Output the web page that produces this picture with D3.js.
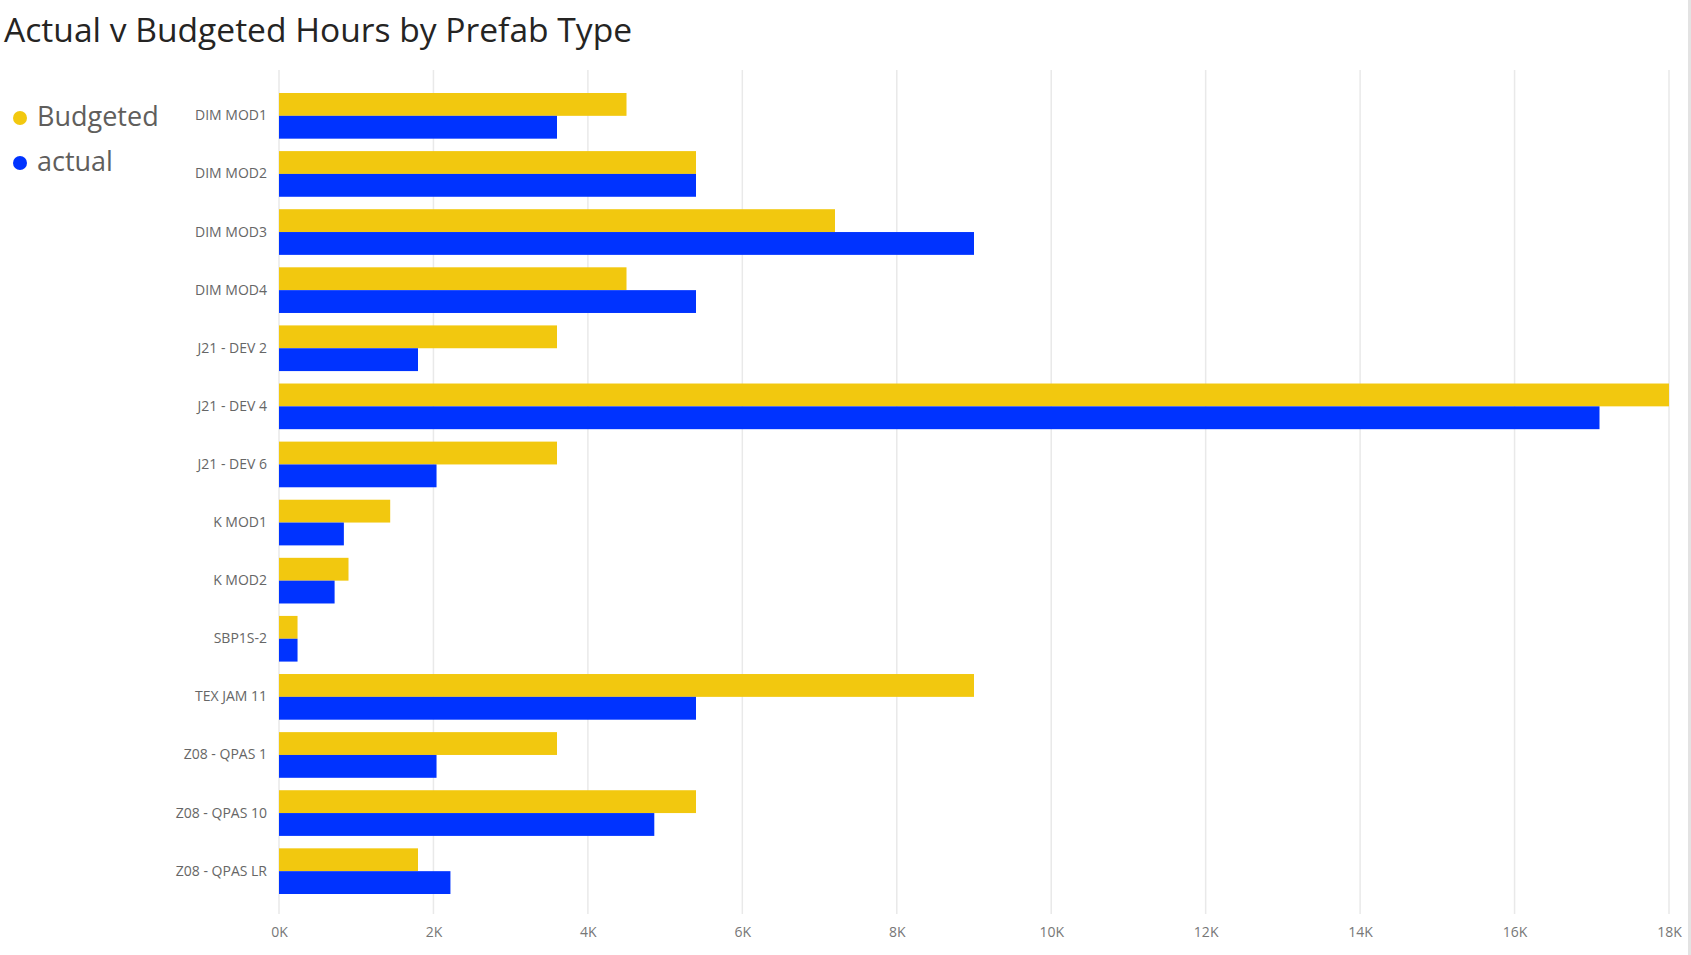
<!DOCTYPE html>
<html>
<head>
<meta charset="utf-8">
<script src="https://cdn.jsdelivr.net/npm/d3@7"></script>
<style>
  html, body { margin: 0; padding: 0; background: #ffffff; }
  svg { display: block; }
</style>
</head>
<body>
<svg id="chart" width="1691" height="955"></svg>
<script>
const categories = ["DIM MOD1","DIM MOD2","DIM MOD3","DIM MOD4","J21 - DEV 2","J21 - DEV 4","J21 - DEV 6","K MOD1","K MOD2","SBP1S-2","TEX JAM 11","Z08 - QPAS 1","Z08 - QPAS 10","Z08 - QPAS LR"];
const budgeted = [4500, 5400, 7200, 4500, 3600, 18000, 3600, 1440, 900, 240, 9000, 3600, 5400, 1800];
const actual   = [3600, 5400, 9000, 5400, 1800, 17100, 2040, 840, 720, 240, 5400, 2040, 4860, 2220];
const seriesNames = ["Budgeted", "actual"];
const seriesColors = ["#F2C80F", "#0033FF"];
const tickValues = [0, 2000, 4000, 6000, 8000, 10000, 12000, 14000, 16000, 18000];
const titleText = "Actual v Budgeted Hours by Prefab Type";

const FONT = "'Open Sans', 'Noto Sans', sans-serif";
const svg = d3.select("#chart");

const x = d3.scaleLinear().domain([0, 18000]).range([279, 1669]);
const y = d3.scaleBand().domain(categories).range([71.5, 915.5]).paddingInner(0.214).paddingOuter(0.37);
const sub = d3.scaleBand().domain(seriesNames).range([0, y.bandwidth()]);

// right edge border
svg.append("rect").attr("x", 1688).attr("y", 0).attr("width", 3).attr("height", 955).attr("fill", "#e3e3e3");

// title
svg.append("text").attr("x", 4).attr("y", 42)
  .attr("font-family", FONT).attr("font-size", 33.6).attr("fill", "#252423")
  .text(titleText);

// gridlines
svg.append("g").selectAll("line").data(tickValues).join("line")
  .attr("x1", d => x(d)).attr("x2", d => x(d))
  .attr("y1", 70).attr("y2", 914)
  .attr("stroke", "#e9e9e9").attr("stroke-width", 1.5);

// x axis labels
const xAxis = d3.axisBottom(x).tickValues(tickValues).tickSize(0).tickPadding(0)
  .tickFormat(d => (d / 1000) + "K");
const gx = svg.append("g").attr("transform", "translate(0,927)").call(xAxis);
gx.select(".domain").remove();
gx.selectAll("text").attr("font-family", FONT).attr("font-size", 14).attr("fill", "#777777").attr("dy", "0.71em");

// y axis labels
const yAxis = d3.axisLeft(y).tickSize(0).tickPadding(12);
const gy = svg.append("g").attr("transform", "translate(279,0)").call(yAxis);
gy.select(".domain").remove();
gy.selectAll("text").attr("font-family", FONT).attr("font-size", 14).attr("fill", "#666666");

// bars
const rows = categories.map((c, i) => ({cat: c, vals: [budgeted[i], actual[i]]}));
const g = svg.append("g");
const rowG = g.selectAll("g").data(rows).join("g").attr("transform", d => `translate(0,${y(d.cat)})`);
rowG.selectAll("rect").data(d => d.vals.map((v, j) => ({name: seriesNames[j], v, j}))).join("rect")
  .attr("x", x(0))
  .attr("y", d => sub(d.name))
  .attr("width", d => x(d.v) - x(0))
  .attr("height", sub.bandwidth())
  .attr("fill", d => seriesColors[d.j]);

// legend
const leg = svg.append("g");
seriesNames.forEach((n, i) => {
  const cy = 118 + i * 45;
  leg.append("circle").attr("cx", 20).attr("cy", cy).attr("r", 7).attr("fill", seriesColors[i]);
  leg.append("text").attr("x", 37).attr("y", cy - 1).attr("dy", "0.35em")
    .attr("font-family", FONT).attr("font-size", 27).attr("fill", "#605E5C").text(n);
});
</script>
</body>
</html>
